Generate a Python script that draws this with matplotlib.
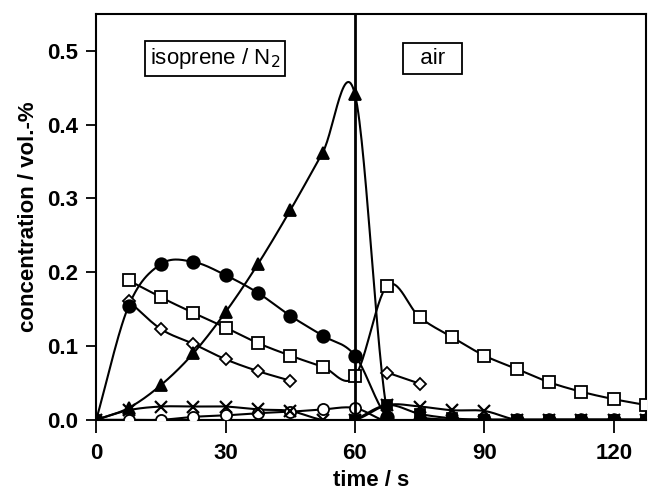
import numpy as np
import matplotlib.pyplot as plt

plt.rcParams['font.family'] = ['Liberation Sans', 'DejaVu Sans']

# time axis (s)
t_all = [0, 7.5, 15, 22.5, 30, 37.5, 45, 52.5, 60, 67.5, 75, 82.5, 90,
         97.5, 105, 112.5, 120, 127.5]

tri_y = [0, 0.016, 0.047, 0.090, 0.146, 0.211, 0.284, 0.362, 0.441, 0.010,
         0.003, 0, 0, 0, 0, 0, 0, 0]
dot_y = [0, 0.154, 0.211, 0.214, 0.196, 0.172, 0.141, 0.114, 0.087, 0.004,
         0, 0, 0, 0, 0, 0, 0, 0]
sq_t = t_all[1:]
sq_y = [0.189, 0.166, 0.145, 0.125, 0.104, 0.087, 0.072, 0.059, 0.182,
        0.139, 0.112, 0.087, 0.069, 0.051, 0.038, 0.028, 0.020]
dia_t1 = [7.5, 15, 22.5, 30, 37.5, 45]
dia_y1 = [0.161, 0.123, 0.103, 0.082, 0.066, 0.053]
dia_t2 = [67.5, 75]
dia_y2 = [0.064, 0.049]
circ_y = [0, 0, 0, 0.004, 0.006, 0.009, 0.011, 0.014, 0.016, -0.002,
          0, 0, 0, 0, 0, 0, 0, 0]
x_y = [0, 0.013, 0.018, 0.018, 0.018, 0.014, 0.012, 0, 0, 0.020, 0.018,
       0.013, 0.012, 0, 0, 0, 0, 0]
fsq_t = t_all[8:]
fsq_y = [0, 0.020, 0.008, 0.002, 0, 0, 0, 0, 0, 0]


def smooth(x, y, n=30):
    """catmull-rom curve through the points, for the drawn line only"""
    x = np.asarray(x, float)
    y = np.asarray(y, float)
    if len(x) < 3:
        return x, y
    m = np.zeros(len(x))
    m[0] = (y[1] - y[0]) / (x[1] - x[0])
    m[-1] = (y[-1] - y[-2]) / (x[-1] - x[-2])
    m[1:-1] = (y[2:] - y[:-2]) / (x[2:] - x[:-2])
    xs, ys = [], []
    s = np.linspace(0, 1, n)
    for i in range(len(x) - 1):
        h = x[i + 1] - x[i]
        h00 = 2 * s ** 3 - 3 * s ** 2 + 1
        h10 = s ** 3 - 2 * s ** 2 + s
        h01 = -2 * s ** 3 + 3 * s ** 2
        h11 = s ** 3 - s ** 2
        xs.append(x[i] + s * h)
        ys.append(h00 * y[i] + h10 * h * m[i] + h01 * y[i + 1]
                  + h11 * h * m[i + 1])
    return np.concatenate(xs), np.concatenate(ys)


fig = plt.figure(figsize=(6.5, 4.98), dpi=100)
ax = fig.add_axes([0.148, 0.157, 0.846, 0.815])

lw = 1.5
series = [
    (sq_t, sq_y, dict(marker='s', ms=9, mfc='white')),
    (dia_t1, dia_y1, dict(marker='D', ms=6, mfc='white')),
    (dia_t2, dia_y2, dict(marker='D', ms=6, mfc='white')),
    (t_all, circ_y, dict(marker='o', ms=8, mfc='white')),
    (t_all, x_y, dict(marker='x', ms=9, mew=1.6)),
    (fsq_t, fsq_y, dict(marker='s', ms=7, mfc='black')),
    (t_all, dot_y, dict(marker='o', ms=9, mfc='black')),
    (t_all, tri_y, dict(marker='^', ms=9, mfc='black')),
]
for xs, ys, st in series:
    sx, sy = smooth(xs, ys)
    ax.plot(sx, sy, color='black', lw=lw, zorder=2)
    ax.plot(xs, ys, ls='none', mec='black', color='black',
            mew=st.pop('mew', 1.3), zorder=3, **st)

ax.axvline(60, color='black', lw=2, zorder=4)
ax.axhline(0, color='black', lw=1.5, zorder=1)

ax.set_xlim(0, 127.5)
ax.set_ylim(0, 0.55)
ax.set_xticks([0, 30, 60, 90, 120])
ax.set_yticks([0.0, 0.1, 0.2, 0.3, 0.4, 0.5])
ax.set_yticklabels(['0.0', '0.1', '0.2', '0.3', '0.4', '0.5'])
ax.tick_params(direction='out', width=1.3, labelsize=16)
ax.tick_params(axis='x', length=9, pad=8)
ax.tick_params(axis='y', length=7, pad=6)
for lab in ax.get_xticklabels() + ax.get_yticklabels():
    lab.set_fontweight('bold')
for sp in ax.spines.values():
    sp.set_linewidth(1.5)
ax.set_xlabel('time / s', fontsize=16, fontweight='bold', labelpad=4)
ax.set_ylabel('concentration / vol.-%', fontsize=16, fontweight='bold',
              labelpad=6)

box = dict(boxstyle='square,pad=0.22', fc='white', ec='black', lw=1.3)
ax.text(27.6, 0.49, 'isoprene / N$_2$', fontsize=16, ha='center',
        va='center', bbox=box, zorder=5)
ax.text(78.0, 0.49, '  air  ', fontsize=16, ha='center', va='center',
        bbox=box, zorder=5)

fig.savefig('out.png', dpi=100)
